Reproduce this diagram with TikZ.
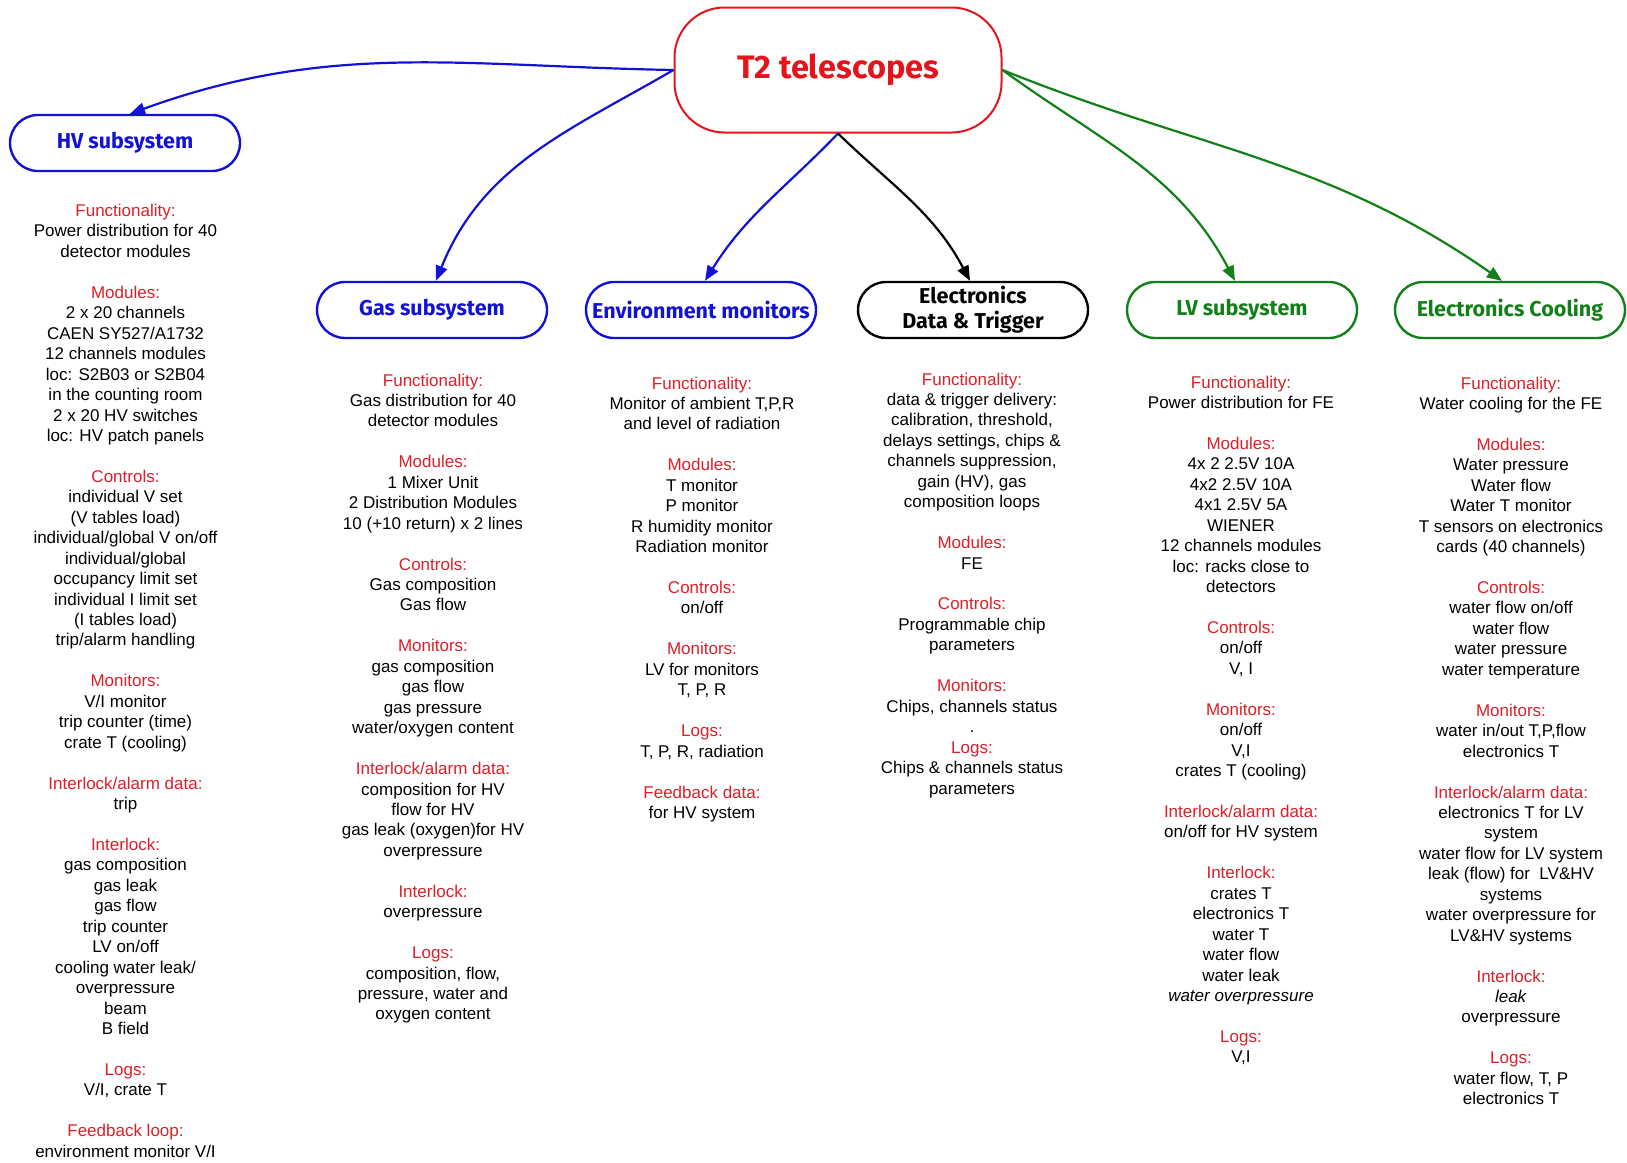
\documentclass[tikz,border=0pt]{standalone}
\usepackage{fontspec}
\setmainfont{Liberation Sans}
\newfontfamily\headfont{Fira Sans}
\usetikzlibrary{arrows.meta}

\definecolor{rootred}{RGB}{228,20,28}
\definecolor{hdred}{RGB}{222,30,40}
\definecolor{subblue}{RGB}{18,18,215}
\definecolor{subgreen}{RGB}{18,128,24}

\newcommand{\hd}[1]{\textcolor{hdred}{#1}}

\begin{document}
\begin{tikzpicture}[x=1pt, y=1pt,
    subbox/.style={draw, line width=2.4pt, rounded corners=28pt, minimum width=230pt,
      minimum height=56pt, align=center, inner sep=2pt,
      font=\headfont\bfseries\fontsize{21.5}{25}\selectfont},
    info/.style={anchor=north, align=center, inner sep=0pt,
      font=\fontsize{17}{20.45}\selectfont},
    link/.style={line width=2.2pt, -{Triangle[length=15pt,width=12pt]}}]
    \useasboundingbox (0,0) rectangle (1627,-1162);

    % Top node
    \node[draw=rootred, text=rootred, line width=2pt, rounded corners=50pt,
      minimum width=327pt, minimum height=125pt,
      font=\headfont\bfseries\fontsize{32.5}{36}\selectfont] (t2) at (838,-70) {T2 telescopes};

    % Subsystems
    \node[subbox, subblue] (hv) at (125,-143) {HV subsystem};
    \node[subbox, subblue] (gas) at (432,-310) {Gas subsystem};
    \node[subbox, subblue] (env) at (701,-310) {Environment monitors};
    \node[subbox, black] (elec) at (973,-310) {Electronics\\Data \& Trigger};
    \node[subbox, subgreen] (lv) at (1242,-310) {LV subsystem};
    \node[subbox, subgreen] (cool) at (1510,-310) {Electronics Cooling};

    % Arrows
    \draw[link, subblue] (t2.west) to[out=179, in=20] ([xshift=5pt]hv.north);
    \draw[link, subblue] (t2.west) to[out=210, in=68] ([xshift=4pt]gas.north);
    \draw[link, subblue] (t2.south) to[out=226, in=58] ([xshift=4pt]env.north);
    \draw[link, black] (t2.south) to[out=-44, in=118] ([xshift=-3pt]elec.north);
    \draw[link, subgreen] (t2.east) to[out=-36, in=118] ([xshift=-7pt]lv.north);
    \draw[link, subgreen] (t2.east) to[out=-22, in=145] ([xshift=-8pt]cool.north);

    % HV column
    \node[info] (hvtext) at (125.5,-204) {\hd{Functionality:}\\
      Power distribution for 40\\ detector modules\\[20.45pt]
      \hd{Modules:}\\ 2 x 20 channels\\ CAEN SY527/A1732\\ 12 channels modules\\
      loc: S2B03 or S2B04\\ in the counting room\\ 2 x 20 HV switches\\
      loc: HV patch panels\\[20.45pt]
      \hd{Controls:}\\ individual V set\\ (V tables load)\\ individual/global V on/off\\
      individual/global\\ occupancy limit set\\ individual I limit set\\
      (I tables load)\\ trip/alarm handling\\[20.45pt]
      \hd{Monitors:}\\ V/I monitor\\ trip counter (time)\\ crate T (cooling)\\[20.45pt]
      \hd{Interlock/alarm data:}\\ trip\\[20.45pt]
      \hd{Interlock:}\\ gas composition\\ gas leak\\ gas flow\\ trip counter\\
      LV on/off\\ cooling water leak/\\ overpressure\\ beam\\ B field\\[20.45pt]
      \hd{Logs:}\\ V/I, crate T\\[20.45pt]
      \hd{Feedback loop:}\\ environment monitor V/I};

    % Gas column
    \node[info] (gastext) at (433,-373.5) {\hd{Functionality:}\\
      Gas distribution for 40\\ detector modules\\[20.45pt]
      \hd{Modules:}\\ 1 Mixer Unit\\ 2 Distribution Modules\\ 10 (+10 return) x 2 lines\\[20.45pt]
      \hd{Controls:}\\ Gas composition\\ Gas flow\\[20.45pt]
      \hd{Monitors:}\\ gas composition\\ gas flow\\ gas pressure\\ water/oxygen content\\[20.45pt]
      \hd{Interlock/alarm data:}\\ composition for HV\\ flow for HV\\
      gas leak (oxygen)for HV\\ overpressure\\[20.45pt]
      \hd{Interlock:}\\ overpressure\\[20.45pt]
      \hd{Logs:}\\ composition, flow,\\ pressure, water and\\ oxygen content};

    % Environment column
    \node[info] (envtext) at (702,-376.5) {\hd{Functionality:}\\
      Monitor of ambient T,P,R\\ and level of radiation\\[20.45pt]
      \hd{Modules:}\\ T monitor\\ P monitor\\ R humidity monitor\\ Radiation monitor\\[20.45pt]
      \hd{Controls:}\\ on/off\\[20.45pt]
      \hd{Monitors:}\\ LV for monitors\\ T, P, R\\[20.45pt]
      \hd{Logs:}\\ T, P, R, radiation\\[20.45pt]
      \hd{Feedback data:}\\ for HV system};

    % Electronics column
    \node[info] (electext) at (972,-372.5) {\hd{Functionality:}\\
      data \& trigger delivery:\\ calibration, threshold,\\ delays settings, chips \&\\
      channels suppression,\\ gain (HV), gas\\ composition loops\\[20.45pt]
      \hd{Modules:}\\ FE\\[20.45pt]
      \hd{Controls:}\\ Programmable chip\\ parameters\\[20.45pt]
      \hd{Monitors:}\\ Chips, channels status\\ .\\
      \hd{Logs:}\\ Chips \& channels status\\ parameters};

    % LV column
    \node[info] (lvtext) at (1241,-375.5) {\hd{Functionality:}\\
      Power distribution for FE\\[20.45pt]
      \hd{Modules:}\\ 4x 2 2.5V 10A\\ 4x2 2.5V 10A\\ 4x1 2.5V 5A\\ WIENER\\
      12 channels modules\\ loc: racks close to\\ detectors\\[20.45pt]
      \hd{Controls:}\\ on/off\\ V, I\\[20.45pt]
      \hd{Monitors:}\\ on/off\\ V,I\\ crates T (cooling)\\[20.45pt]
      \hd{Interlock/alarm data:}\\ on/off for HV system\\[20.45pt]
      \hd{Interlock:}\\ crates T\\ electronics T\\ water T\\ water flow\\ water leak\\
      \textit{water overpressure}\\[20.45pt]
      \hd{Logs:}\\ V,I};

    % Cooling column
    \node[info] (cooltext) at (1511,-376.5) {\hd{Functionality:}\\
      Water cooling for the FE\\[20.45pt]
      \hd{Modules:}\\ Water pressure\\ Water flow\\ Water T monitor\\
      T sensors on electronics\\ cards (40 channels)\\[20.45pt]
      \hd{Controls:}\\ water flow on/off\\ water flow\\ water pressure\\ water temperature\\[20.45pt]
      \hd{Monitors:}\\ water in/out T,P,flow\\ electronics T\\[20.45pt]
      \hd{Interlock/alarm data:}\\ electronics T for LV\\ system\\ water flow for LV system\\
      leak (flow) for\ \ LV\&HV\\ systems\\ water overpressure for\\ LV\&HV systems\\[20.45pt]
      \hd{Interlock:}\\ \textit{leak}\\ overpressure\\[20.45pt]
      \hd{Logs:}\\ water flow, T, P\\ electronics T};
\end{tikzpicture}
\end{document}
